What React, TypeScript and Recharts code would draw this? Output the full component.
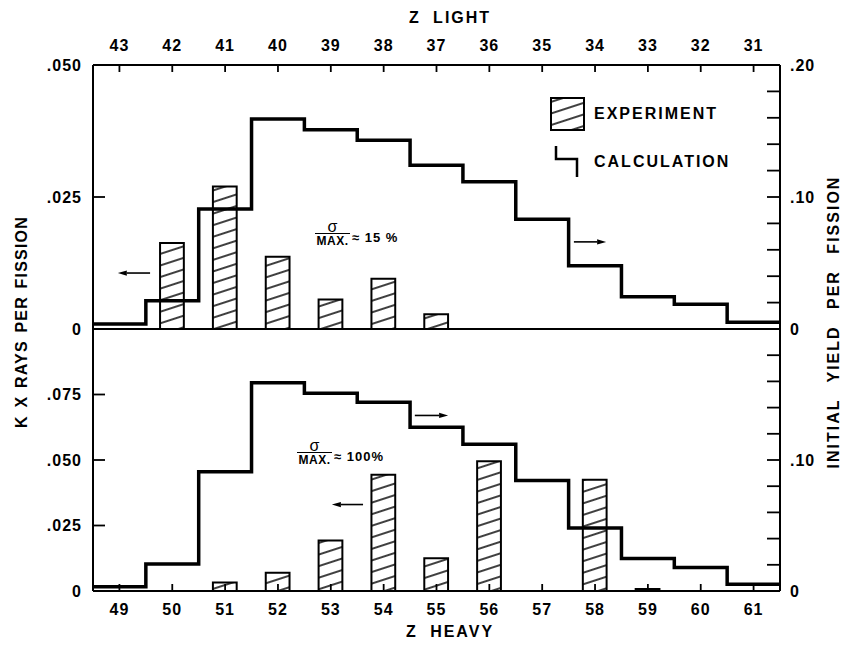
import React from "react";
import {
  ComposedChart,
  Bar,
  Line,
  XAxis,
  YAxis,
  ReferenceLine,
  Legend,
} from "recharts";

// Z of the heavy fragment (bottom axis) and its complementary light fragment (top axis)
const zHeavy = [49, 50, 51, 52, 53, 54, 55, 56, 57, 58, 59, 60, 61];
const zLight = [43, 42, 41, 40, 39, 38, 37, 36, 35, 34, 33, 32, 31];

// top panel: sigma/max = 15%
const expTop = [null, 0.0163, 0.027, 0.0137, 0.0056, 0.0095, 0.0028, null, null, null, null, null, null];
const calcTop = [0.0038, 0.0214, 0.0909, 0.159, 0.151, 0.143, 0.124, 0.1116, 0.0831, 0.048, 0.0245, 0.0187, 0.0051];

// bottom panel: sigma/max = 100%
const expBottom = [null, null, 0.0032, 0.007, 0.0193, 0.0444, 0.0125, 0.0495, null, 0.0425, 0.0008, null, null];
const calcBottom = [0.0033, 0.0207, 0.091, 0.159, 0.151, 0.144, 0.125, 0.112, 0.0843, 0.048, 0.0248, 0.0179, 0.0051];

const leftTicksTop = [0, 0.025, 0.05];
const leftTicksBottom = [0, 0.025, 0.05, 0.075];
const rightTicksTop = [0, 0.02, 0.04, 0.06, 0.08, 0.1, 0.12, 0.14, 0.16, 0.18, 0.2];
const rightTicksBottom = [0, 0.02, 0.04, 0.06, 0.08, 0.1, 0.12, 0.14, 0.16, 0.18];
const rightLabels = [0, 0.1, 0.2];

// little arrows telling which axis a curve belongs to (data coords, left axis)
const arrowsTop = [
  { from: 49.58, to: 48.97, y: 0.0106 },
  { from: 57.6, to: 58.21, y: 0.0165 },
];
const arrowsBottom = [
  { from: 54.59, to: 55.22, y: 0.067 },
  { from: 53.61, to: 53.02, y: 0.033 },
];

const FONT = "'Liberation Sans', Arial, sans-serif";

const bars = (vals: (number | null)[]) => zHeavy.map((z, i) => ({ z, exp: vals[i] }));
const steps = (vals: number[]) => [
  ...zHeavy.map((z, i) => ({ z: z - 0.5, calc: vals[i] })),
  { z: zHeavy[zHeavy.length - 1] + 0.5, calc: vals[vals.length - 1] },
];

const fmtLeft = (v: number) => (v === 0 ? "0" : v.toFixed(3).replace(/^0/, ""));
const fmtRight = (v: number) =>
  rightLabels.some((r) => Math.abs(r - v) < 1e-9) ? (v === 0 ? "0" : v.toFixed(2).replace(/^0/, "")) : "";

const tickStyle = { fill: "#000", fontSize: 16, fontFamily: FONT, fontWeight: "bold", letterSpacing: 1 };
const axisLine = { stroke: "#000", strokeWidth: 2 };
const tickLine = { stroke: "#000", strokeWidth: 1.8 };

const Arrow = (p: any) => {
  const { x1, y1, x2, y2 } = p;
  const dir = Math.sign(x2 - x1);
  const hx = x2 - dir * 9;
  return (
    <g>
      <line x1={x1} y1={y1} x2={hx} y2={y2} stroke="#000" strokeWidth={1.6} />
      <polygon points={`${x2},${y2} ${hx},${y2 - 2.6} ${hx},${y2 + 2.6}`} fill="#000" />
    </g>
  );
};

const LegendBox = () => (
  <div style={{ fontFamily: FONT, fontSize: 16, fontWeight: "bold", letterSpacing: 2, color: "#000" }}>
    <div style={{ display: "flex", alignItems: "center", height: 34 }}>
      <svg width={36} height={34}>
        <rect x={1} y={1} width={33} height={32} fill="url(#hatch)" stroke="#000" strokeWidth={2} />
      </svg>
      <span style={{ marginLeft: 8 }}>EXPERIMENT</span>
    </div>
    <div style={{ display: "flex", alignItems: "center", height: 34, marginTop: 14 }}>
      <svg width={36} height={34}>
        <polyline points="6,1 6,14 27,14 27,32" fill="none" stroke="#000" strokeWidth={2.5} />
      </svg>
      <span style={{ marginLeft: 8 }}>CALCULATION</span>
    </div>
  </div>
);

const Ratio = ({ pct, left, top }: { pct: string; left: number; top: number }) => (
  <div
    style={{
      position: "absolute",
      left,
      top,
      display: "flex",
      alignItems: "flex-start",
      fontFamily: FONT,
      fontWeight: "bold",
      color: "#000",
    }}
  >
    <div style={{ display: "flex", flexDirection: "column", alignItems: "stretch", width: 35 }}>
      <div
        style={{
          fontSize: 16,
          fontWeight: "normal",
          lineHeight: "13px",
          height: 13,
          textAlign: "center",
          borderBottom: "1.5px solid #000",
        }}
      >
        σ
      </div>
      <div style={{ fontSize: 12, lineHeight: "14px", height: 14, letterSpacing: 0.5, textAlign: "center" }}>MAX.</div>
    </div>
    <div style={{ fontSize: 13, lineHeight: "14px", marginLeft: 2, marginTop: 11, letterSpacing: 1, whiteSpace: "nowrap" }}>
      {pct}
    </div>
  </div>
);

export default function App() {
  const titleStyle: React.CSSProperties = {
    position: "absolute",
    fontFamily: FONT,
    fontSize: 16,
    fontWeight: "bold",
    letterSpacing: 2,
    wordSpacing: 6,
    color: "#000",
    whiteSpace: "nowrap",
  };

  return (
    <div style={{ position: "absolute", left: 0, top: 0, width: 849, height: 647, background: "#fff" }}>
      <svg width={0} height={0} style={{ position: "absolute" }}>
        <defs>
          <pattern id="hatch" patternUnits="userSpaceOnUse" width={12} height={11} patternTransform="rotate(-18)">
            <line x1={0} y1={5} x2={12} y2={5} stroke="#000" strokeWidth={1.5} />
          </pattern>
        </defs>
      </svg>

      {/* top panel */}
      <div style={{ position: "absolute", left: 0, top: 0 }}>
        <ComposedChart width={849} height={345} data={bars(expTop)} margin={{ top: 25, right: 9, bottom: 16, left: 33 }}>
          <XAxis
            xAxisId="x"
            dataKey="z"
            type="number"
            orientation="top"
            domain={[48.5, 61.5]}
            allowDataOverflow
            ticks={zHeavy}
            interval={0}
            tickFormatter={(v: number) => String(zLight[zHeavy.indexOf(v)])}
            height={40}
            tickSize={-7}
            tickMargin={21}
            axisLine={axisLine}
            tickLine={tickLine}
            tick={tickStyle}
          />
          <YAxis
            yAxisId="l"
            orientation="left"
            domain={[0, 0.05]}
            ticks={leftTicksTop}
            interval={0}
            tickFormatter={fmtLeft}
            width={60}
            tickSize={-12}
            tickMargin={23}
            axisLine={axisLine}
            tickLine={tickLine}
            tick={tickStyle}
          />
          <YAxis
            yAxisId="r"
            orientation="right"
            domain={[0, 0.2]}
            ticks={rightTicksTop}
            interval={0}
            tickFormatter={fmtRight}
            width={60}
            tickSize={-13}
            tickMargin={23}
            axisLine={axisLine}
            tickLine={tickLine}
            tick={tickStyle}
          />
          <ReferenceLine xAxisId="x" yAxisId="l" y={0} stroke="#000" strokeWidth={2} />
          <Bar
            xAxisId="x"
            yAxisId="l"
            dataKey="exp"
            barSize={31}
            fill="url(#hatch)"
            stroke="#000"
            strokeWidth={2}
            isAnimationActive={false}
          />
          <Line
            xAxisId="x"
            yAxisId="r"
            data={steps(calcTop)}
            dataKey="calc"
            type="stepAfter"
            stroke="#000"
            strokeWidth={3.5}
            dot={false}
            activeDot={false}
            isAnimationActive={false}
          />
          {arrowsTop.map((a, i) => (
            <ReferenceLine
              key={i}
              xAxisId="x"
              yAxisId="l"
              segment={[{ x: a.from, y: a.y }, { x: a.to, y: a.y }]}
              shape={Arrow}
            />
          ))}
          <Legend
            layout="horizontal"
            verticalAlign="middle"
            align="center"
            content={() => <LegendBox />}
            wrapperStyle={{ position: "absolute", left: 550, top: 97, width: 220, height: 84 }}
          />
        </ComposedChart>
      </div>

      {/* bottom panel */}
      <div style={{ position: "absolute", left: 0, top: 329 }}>
        <ComposedChart width={849} height={318} data={bars(expBottom)} margin={{ top: 0, right: 9, bottom: 0, left: 33 }}>
          <XAxis
            xAxisId="x"
            dataKey="z"
            type="number"
            orientation="bottom"
            domain={[48.5, 61.5]}
            allowDataOverflow
            ticks={zHeavy}
            interval={0}
            height={56}
            tickSize={-7}
            tickMargin={20}
            axisLine={axisLine}
            tickLine={tickLine}
            tick={tickStyle}
          />
          <YAxis
            yAxisId="l"
            orientation="left"
            domain={[0, 0.1]}
            ticks={leftTicksBottom}
            interval={0}
            tickFormatter={fmtLeft}
            width={60}
            tickSize={-12}
            tickMargin={23}
            axisLine={axisLine}
            tickLine={tickLine}
            tick={tickStyle}
          />
          <YAxis
            yAxisId="r"
            orientation="right"
            domain={[0, 0.2]}
            ticks={rightTicksBottom}
            interval={0}
            tickFormatter={fmtRight}
            width={60}
            tickSize={-13}
            tickMargin={23}
            axisLine={axisLine}
            tickLine={tickLine}
            tick={tickStyle}
          />
          <Bar
            xAxisId="x"
            yAxisId="l"
            dataKey="exp"
            barSize={31}
            fill="url(#hatch)"
            stroke="#000"
            strokeWidth={2}
            isAnimationActive={false}
          />
          <Line
            xAxisId="x"
            yAxisId="r"
            data={steps(calcBottom)}
            dataKey="calc"
            type="stepAfter"
            stroke="#000"
            strokeWidth={3.5}
            dot={false}
            activeDot={false}
            isAnimationActive={false}
          />
          {arrowsBottom.map((a, i) => (
            <ReferenceLine
              key={i}
              xAxisId="x"
              yAxisId="l"
              segment={[{ x: a.from, y: a.y }, { x: a.to, y: a.y }]}
              shape={Arrow}
            />
          ))}
        </ComposedChart>
      </div>

      <Ratio pct="≈ 15 %" left={315} top={220} />
      <Ratio pct="≈ 100%" left={297} top={439} />

      <div style={{ ...titleStyle, left: 0, width: 900, top: 9, textAlign: "center" }}>Z LIGHT</div>
      <div style={{ ...titleStyle, left: 0, width: 900, top: 623, textAlign: "center" }}>Z HEAVY</div>
      <div
        style={{
          ...titleStyle,
          letterSpacing: 1.2,
          wordSpacing: 2,
          left: 22,
          top: 322,
          transform: "translate(-50%, -50%) rotate(-90deg)",
        }}
      >
        K X RAYS PER FISSION
      </div>
      <div
        style={{
          ...titleStyle,
          wordSpacing: 10,
          left: 834,
          top: 322,
          transform: "translate(-50%, -50%) rotate(-90deg)",
        }}
      >
        INITIAL YIELD PER FISSION
      </div>
    </div>
  );
}
